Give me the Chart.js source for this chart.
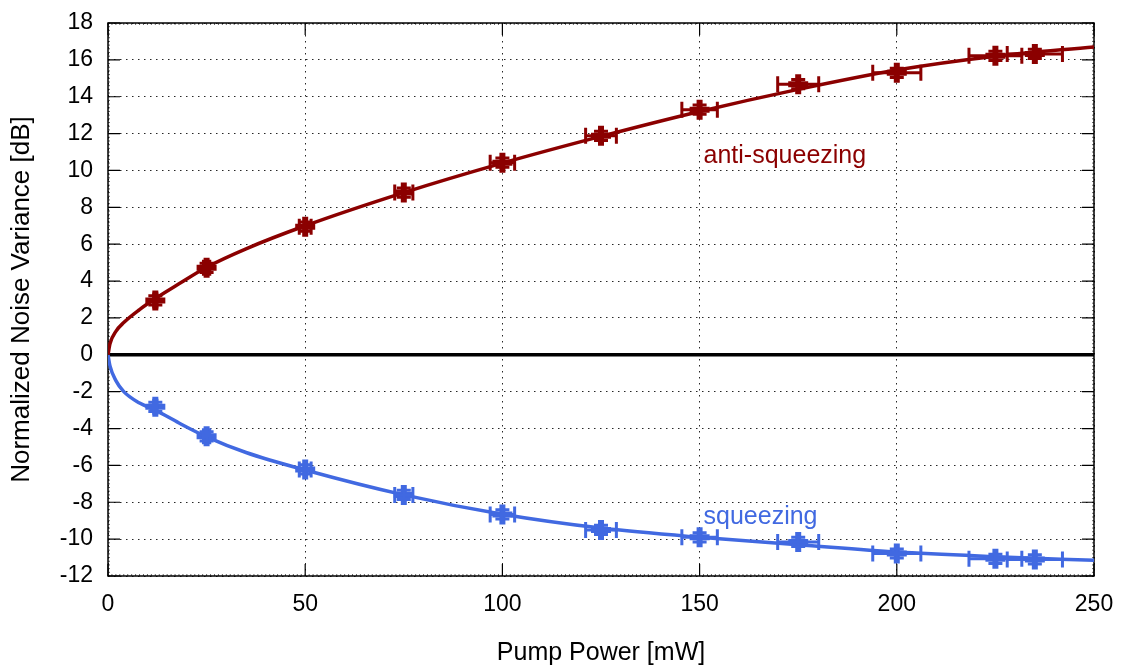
<!DOCTYPE html>
<html>
<head>
<meta charset="utf-8">
<script src="https://cdn.jsdelivr.net/npm/chart.js@4/dist/chart.umd.min.js"></script>
<style>
  html, body { margin: 0; padding: 0; background: #fff; }
  #wrap { width: 1123px; height: 668px; }
</style>
</head>
<body>
<div id="wrap"><canvas id="noiseChart"></canvas></div>
<script>
// measured points (pump power in mW, noise in dB)
const powers = [12, 25, 50, 75, 100, 125, 150, 175, 200, 225, 235];
const powerErr = [0.4, 0.8, 1.5, 2.3, 3.1, 3.9, 4.5, 5.2, 6.1, 6.7, 7.0];
const antiSqueezing = [2.95, 4.72, 6.95, 8.8, 10.42, 11.88, 13.3, 14.68, 15.3, 16.22, 16.32];
const squeezing = [-2.82, -4.42, -6.22, -7.6, -8.66, -9.5, -9.9, -10.15, -10.78, -11.07, -11.1];
const noiseErr = [0.25, 0.25, 0.25, 0.25, 0.25, 0.25, 0.25, 0.25, 0.25, 0.25, 0.25];

// fitted curves
const fitPower = [0, 0.5, 2, 4, 8, 12, 18, 25, 35, 50, 75, 100, 125, 150, 175, 200, 225, 250];
const fitAnti = [0, 0.6, 1.27, 1.75, 2.45, 3.05, 3.85, 4.75, 5.75, 7.0, 8.8, 10.4, 11.85, 13.2, 14.4, 15.45, 16.2, 16.7];
const fitSq = [0, -0.6, -1.4, -2.0, -2.62, -3.0, -3.7, -4.45, -5.3, -6.25, -7.6, -8.65, -9.4, -9.9, -10.3, -10.7, -10.95, -11.15];

const xTicks = [0, 50, 100, 150, 200, 250];
const yTicks = [-12, -10, -8, -6, -4, -2, 0, 2, 4, 6, 8, 10, 12, 14, 16, 18];

const RED = '#8b0000';
const BLUE = '#4169e1';
const FONT = "'Liberation Sans', Arial, Helvetica, sans-serif";

Chart.defaults.font.family = FONT;
Chart.defaults.font.size = 23;
Chart.defaults.color = '#000';

const toXY = (xs, ys) => xs.map((x, i) => ({ x: x, y: ys[i] }));

// frame, zero line, ticks, error bars and labels (gnuplot look)
const gnuplotLook = {
    id: 'gnuplotLook',
    beforeDatasetsDraw(chart) {
        const { ctx, chartArea: a, scales: { x, y } } = chart;
        ctx.save();
        // zero line
        ctx.strokeStyle = '#000';
        ctx.lineWidth = 3.5;
        ctx.beginPath();
        ctx.moveTo(a.left, y.getPixelForValue(0));
        ctx.lineTo(a.right, y.getPixelForValue(0));
        ctx.stroke();
        // minor ticks
        ctx.lineWidth = 1;
        ctx.strokeStyle = 'rgba(0,0,0,0.6)';
        ctx.beginPath();
        for (let v = 0; v <= 250; v += 1) {
            const px = x.getPixelForValue(v);
            ctx.moveTo(px, a.bottom); ctx.lineTo(px, a.bottom - 2);
            ctx.moveTo(px, a.top); ctx.lineTo(px, a.top + 2);
        }
        for (let v = -12; v <= 18.001; v += 0.2) {
            const py = y.getPixelForValue(v);
            ctx.moveTo(a.left, py); ctx.lineTo(a.left + 2, py);
            ctx.moveTo(a.right, py); ctx.lineTo(a.right - 2, py);
        }
        ctx.stroke();
        // major ticks
        ctx.strokeStyle = '#000';
        ctx.lineWidth = 1.2;
        ctx.beginPath();
        xTicks.forEach(v => {
            const px = x.getPixelForValue(v);
            ctx.moveTo(px, a.bottom); ctx.lineTo(px, a.bottom - 12);
            ctx.moveTo(px, a.top); ctx.lineTo(px, a.top + 12);
        });
        yTicks.forEach(v => {
            const py = y.getPixelForValue(v);
            ctx.moveTo(a.left, py); ctx.lineTo(a.left + 12, py);
            ctx.moveTo(a.right, py); ctx.lineTo(a.right - 12, py);
        });
        ctx.stroke();
        // frame
        ctx.lineWidth = 1.5;
        ctx.strokeRect(a.left, a.top, a.right - a.left, a.bottom - a.top);
        ctx.restore();
    },
    afterDatasetsDraw(chart) {
        const { ctx, scales: { x, y } } = chart;
        ctx.save();
        const drawErr = (vals, color) => {
            ctx.strokeStyle = color;
            ctx.lineWidth = 3;
            ctx.beginPath();
            powers.forEach((p, i) => {
                const cx = x.getPixelForValue(p);
                const cy = y.getPixelForValue(vals[i]);
                const x0 = x.getPixelForValue(p - powerErr[i]);
                const x1 = x.getPixelForValue(p + powerErr[i]);
                const y0 = y.getPixelForValue(vals[i] - noiseErr[i]);
                const y1 = y.getPixelForValue(vals[i] + noiseErr[i]);
                ctx.moveTo(x0, cy); ctx.lineTo(x1, cy);
                ctx.moveTo(x0, cy - 8); ctx.lineTo(x0, cy + 8);
                ctx.moveTo(x1, cy - 8); ctx.lineTo(x1, cy + 8);
                ctx.moveTo(cx, y0); ctx.lineTo(cx, y1);
                ctx.moveTo(cx - 7, y0); ctx.lineTo(cx + 7, y0);
                ctx.moveTo(cx - 7, y1); ctx.lineTo(cx + 7, y1);
            });
            ctx.stroke();
        };
        drawErr(antiSqueezing, RED);
        drawErr(squeezing, BLUE);
        // curve labels
        ctx.font = '25px ' + FONT;
        ctx.textAlign = 'left';
        ctx.textBaseline = 'middle';
        ctx.fillStyle = RED;
        ctx.fillText('anti-squeezing', x.getPixelForValue(151.0), y.getPixelForValue(10.78));
        ctx.fillStyle = BLUE;
        ctx.fillText('squeezing', x.getPixelForValue(151.0), y.getPixelForValue(-8.8));
        ctx.restore();
    }
};

new Chart(document.getElementById('noiseChart'), {
    type: 'scatter',
    data: {
        datasets: [
            {
                label: 'anti-squeezing fit',
                data: toXY(fitPower, fitAnti),
                showLine: true,
                borderColor: RED,
                borderWidth: 3.5,
                pointRadius: 0,
                cubicInterpolationMode: 'monotone'
            },
            {
                label: 'squeezing fit',
                data: toXY(fitPower, fitSq),
                showLine: true,
                borderColor: BLUE,
                borderWidth: 3.5,
                pointRadius: 0,
                cubicInterpolationMode: 'monotone'
            },
            {
                label: 'anti-squeezing',
                data: toXY(powers, antiSqueezing),
                pointStyle: 'cross',
                pointRadius: 10,
                borderWidth: 6,
                borderColor: RED,
                backgroundColor: RED
            },
            {
                label: 'squeezing',
                data: toXY(powers, squeezing),
                pointStyle: 'cross',
                pointRadius: 10,
                borderWidth: 6,
                borderColor: BLUE,
                backgroundColor: BLUE
            }
        ]
    },
    options: {
        responsive: true, maintainAspectRatio: false,
        animation: false,
        layout: { padding: { top: 23, right: 29, left: 0, bottom: 0 } },
        plugins: { legend: { display: false }, tooltip: { enabled: false } },
        scales: {
            x: {
                type: 'linear', min: 0, max: 250,
                afterFit: s => { s.height = 92; s.paddingLeft = 0; s.paddingRight = 0; },
                afterBuildTicks: s => { s.ticks = xTicks.map(v => ({ value: v })); },
                grid: { color: 'rgba(0,0,0,0.85)', lineWidth: 1, drawTicks: false },
                border: { display: false, dash: [1.5, 4.5] },
                ticks: { padding: 15, maxRotation: 0 },
                title: { display: true, text: 'Pump Power [mW]', font: { size: 25 }, padding: { top: 0, bottom: 0 } }
            },
            y: {
                type: 'linear', min: -12, max: 18,
                afterFit: s => { s.width = 108; s.paddingTop = 0; s.paddingBottom = 0; },
                afterBuildTicks: s => { s.ticks = yTicks.map(v => ({ value: v })); },
                grid: { color: 'rgba(0,0,0,0.85)', lineWidth: 1, drawTicks: false },
                border: { display: false, dash: [1.5, 4.5] },
                ticks: { padding: 15 },
                title: { display: true, text: 'Normalized Noise Variance [dB]', font: { size: 26 }, padding: { top: 6, bottom: 0 } }
            }
        }
    },
    plugins: [gnuplotLook]
});
</script>
</body>
</html>
